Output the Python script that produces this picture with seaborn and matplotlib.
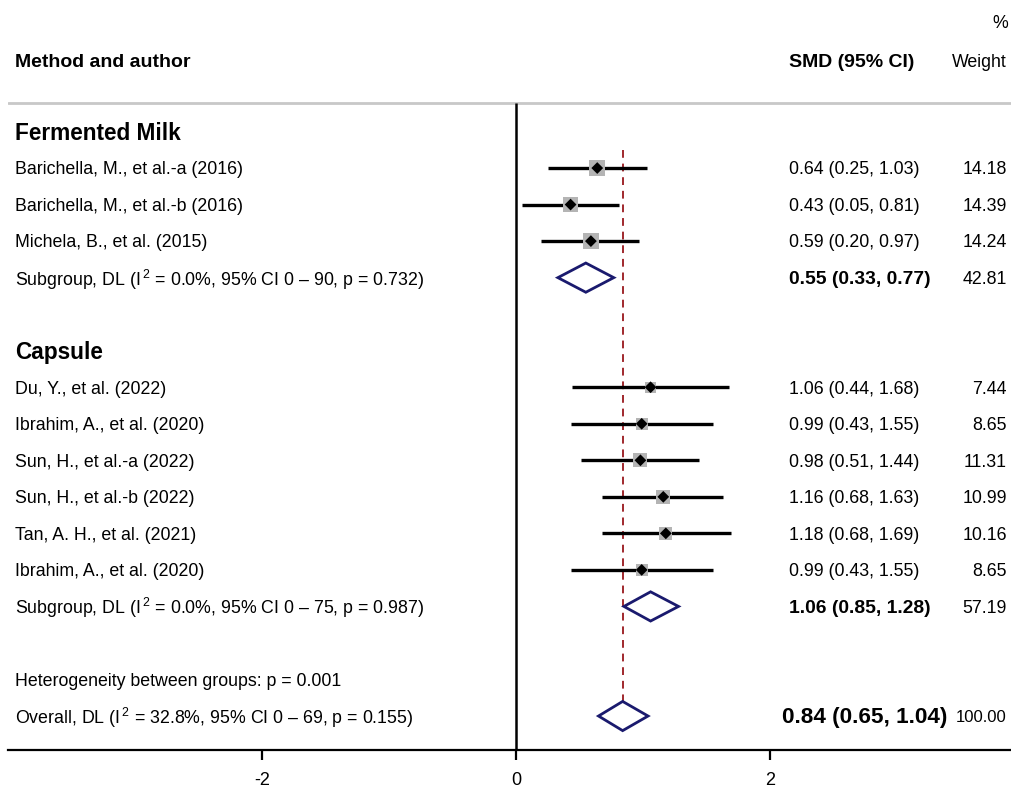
import matplotlib
matplotlib.use("Agg")
import matplotlib.pyplot as plt
import seaborn as sns
import pandas as pd

# study rows
studies = ['Barichella, M., et al.-a (2016)', 'Barichella, M., et al.-b (2016)',
           'Michela, B., et al. (2015)',
           'Du, Y., et al. (2022)', 'Ibrahim, A., et al. (2020)', 'Sun, H., et al.-a (2022)',
           'Sun, H., et al.-b (2022)', 'Tan, A. H., et al. (2021)', 'Ibrahim, A., et al. (2020)']
groups = ['Fermented Milk'] * 3 + ['Capsule'] * 6
smd = [0.64, 0.43, 0.59, 1.06, 0.99, 0.98, 1.16, 1.18, 0.99]
lo = [0.25, 0.05, 0.20, 0.44, 0.43, 0.51, 0.68, 0.68, 0.43]
hi = [1.03, 0.81, 0.97, 1.68, 1.55, 1.44, 1.63, 1.69, 1.55]
weight = [14.18, 14.39, 14.24, 7.44, 8.65, 11.31, 10.99, 10.16, 8.65]

# pooled estimates
pool_labels = ['Subgroup, DL (I$\\mathregular{^{\\,2}}$ = 0.0%, 95% CI 0 \u2013 90, p = 0.732)',
               'Subgroup, DL (I$\\mathregular{^{\\,2}}$ = 0.0%, 95% CI 0 \u2013 75, p = 0.987)',
               'Overall, DL (I$\\mathregular{^{\\,2}}$ = 32.8%, 95% CI 0 \u2013 69, p = 0.155)']
pool_smd = [0.55, 1.06, 0.84]
pool_lo = [0.33, 0.85, 0.65]
pool_hi = [0.77, 1.28, 1.04]
pool_weight = [42.81, 57.19, 100.00]
het_text = 'Heterogeneity between groups: p = 0.001'
xticks = [-2, 0, 2]

# row layout (one unit per line)
group_rows = {'Fermented Milk': 1, 'Capsule': 7}
study_rows = [2, 3, 4, 8, 9, 10, 11, 12, 13]
pool_rows = [5, 14, 17]
het_row = 16

sns.set_theme(style='white')
plt.rcParams['font.family'] = ['Liberation Sans', 'DejaVu Sans']
plt.rcParams['mathtext.fontset'] = 'custom'
plt.rcParams['mathtext.rm'] = 'Liberation Sans'
plt.rcParams['axes.unicode_minus'] = False
plt.rcParams['text.color'] = 'black'
plt.rcParams['xtick.color'] = 'black'

df = pd.DataFrame({'study': studies, 'group': groups, 'smd': smd, 'lo': lo,
                   'hi': hi, 'weight': weight, 'row': study_rows})

fig = plt.figure(figsize=(10.11, 7.88), dpi=100)
ax = fig.add_axes([8 / 1011, 38 / 788, 1003 / 1011, 750 / 788])
ax.set_xlim(-4.0, 3.898)
ax.set_ylim(17.93, -2.6)

# reference lines
ax.axhline(0.22, color='#c8c8c8', lw=2)
ax.vlines(0, 0.22, 17.93, color='black', lw=1.8)
ax.vlines(pool_smd[2], 1.5, 17.45, color='#a0282d', lw=1.4, linestyles=(0, (4, 3)))

# CI whiskers
ax.hlines(df['row'], df['lo'], df['hi'], color='black', lw=2.4, zorder=2)

# weight boxes + point markers
sns.scatterplot(data=df, x='smd', y='row', size='weight', sizes=(0, 9 * 14.39),
                size_norm=(0, 14.39), marker='s', color='#b4b4b4', edgecolor='none',
                legend=False, ax=ax, zorder=3)
sns.scatterplot(data=df, x='smd', y='row', marker='D', color='black', s=36,
                edgecolor='none', legend=False, ax=ax, zorder=4)

# pooled diamonds
for r, m, l, h in zip(pool_rows, pool_smd, pool_lo, pool_hi):
    ax.fill([l, m, h, m, l], [r, r - 0.4, r, r + 0.4, r], facecolor='white',
            edgecolor='#1a1a6e', lw=2, zorder=4)

# text columns
xl, xs, xw = -3.945, 2.15, 3.866
fs = 12.8
dy = 0.05
ax.text(xl, -0.95 + dy, 'Method and author', fontsize=14, fontweight='bold', va='center')
ax.text(xs, -0.95 + dy, 'SMD (95% CI)', fontsize=14, fontweight='bold', va='center')
ax.text(xw, -0.95 + dy, 'Weight', fontsize=fs, va='center', ha='right')
ax.text(xw + 0.01, -2.0 + dy, '%', fontsize=fs, va='center', ha='right')

for g, r in group_rows.items():
    ax.text(xl, r + dy, g, fontsize=16.3, fontweight='bold', va='center')

for _, s in df.iterrows():
    ax.text(xl, s['row'] + dy, s['study'], fontsize=fs, va='center')
    ax.text(xs, s['row'] + dy, f"{s['smd']:.2f} ({s['lo']:.2f}, {s['hi']:.2f})", fontsize=fs, va='center')
    ax.text(xw, s['row'] + dy, f"{s['weight']:.2f}", fontsize=fs, va='center', ha='right')

for i, (lab, r, m, l, h, w) in enumerate(zip(pool_labels, pool_rows, pool_smd, pool_lo,
                                             pool_hi, pool_weight)):
    big = i == 2
    ax.text(xl, r + dy, lab, fontsize=12.75, va='center')
    ax.text(2.094 if big else xs, r + dy, f"{m:.2f} ({l:.2f}, {h:.2f})",
            fontsize=16.2 if big else 13.9, fontweight='bold', va='center')
    ax.text(xw, r + dy, f"{w:.2f}", fontsize=12 if big else fs, va='center', ha='right')

ax.text(xl, het_row + dy, het_text, fontsize=fs, va='center')

# axis styling
sns.despine(ax=ax, left=True, top=True, right=True)
ax.spines['bottom'].set_linewidth(1.6)
ax.spines['bottom'].set_color('black')
ax.set_xticks(xticks)
ax.set_xticklabels([str(t) for t in xticks])
ax.set_yticks([])
ax.tick_params(axis='x', direction='out', length=7, width=1.6, pad=9, labelsize=13,
               bottom=True, color='black', labelcolor='black')
ax.set_xlabel('')
ax.set_ylabel('')

fig.savefig('out.png', dpi=100)
